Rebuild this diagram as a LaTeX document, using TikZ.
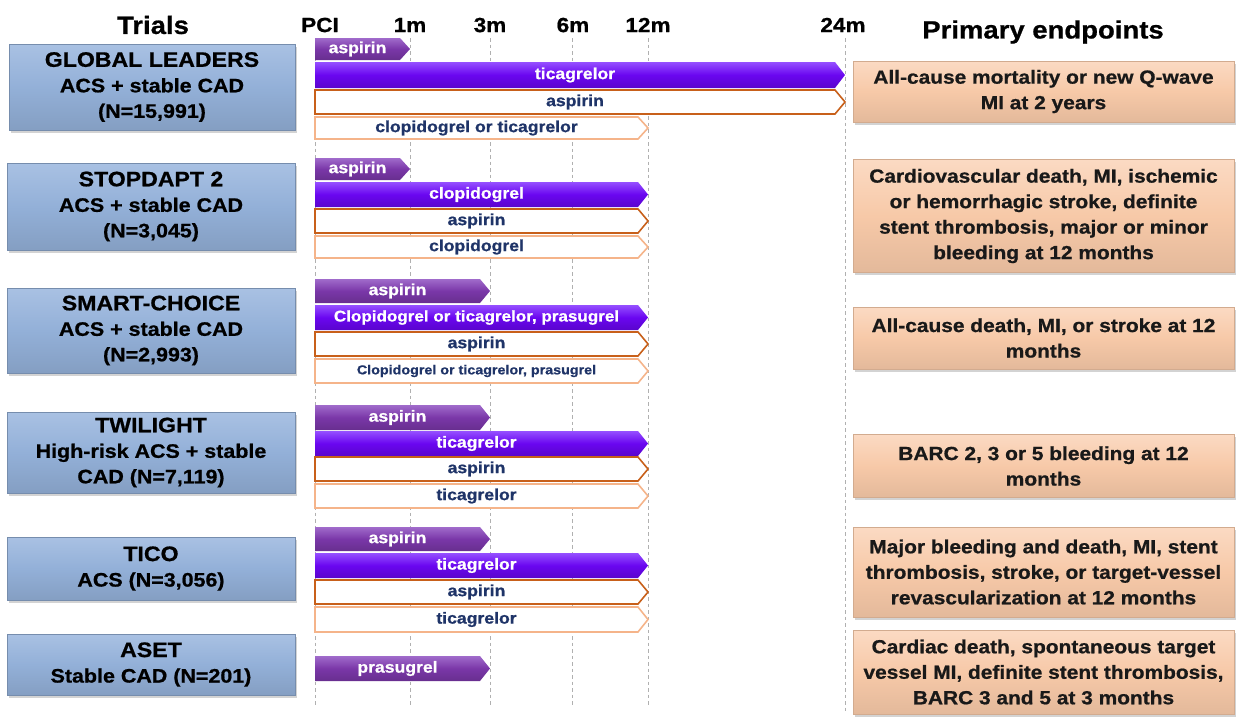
\documentclass[tikz,border=0pt]{standalone}
\usepackage{fontspec}
\setmainfont{Liberation Sans}[FakeStretch=1.1, BoldFeatures={FakeBold=0.8}]
\usetikzlibrary{shadows}
\definecolor{trialblue}{HTML}{93B0D8}
\definecolor{trialblueL}{HTML}{A9C1E3}
\definecolor{endpeach}{HTML}{F7C9A8}
\definecolor{endpeachL}{HTML}{FBDAC3}
\definecolor{darkpurple}{HTML}{7A37A8}
\definecolor{darkpurpleL}{HTML}{A06BCB}
\definecolor{vividviolet}{HTML}{6A06F0}
\definecolor{vividvioletL}{HTML}{9550FF}
\definecolor{asaorange}{HTML}{C8601A}
\definecolor{lightorange}{HTML}{F5B48A}
\definecolor{navytext}{HTML}{1F3468}
\definecolor{gridgray}{HTML}{B0B0B0}

\newcommand\drugbar[7]{%
  \path[#2] (315,#4) -- ({#3-10},#4) -- (#3,{(#4+#5)/2}) -- ({#3-10},#5) -- (315,#5) -- cycle;
  \node[#6] (#1) at ({(305+#3)/2},{(#4+#5)/2}) {#7};}

\tikzset{
  header/.style={font=\bfseries\fontsize{25}{28}\selectfont, inner sep=0pt},
  tick/.style={font=\bfseries\fontsize{20.5}{24}\selectfont, inner sep=0pt},
  grid/.style={draw=gridgray, line width=0.8pt, dash pattern=on 3.5pt off 3pt},
  trial/.style={rectangle, inner sep=0pt, align=center,
    top color=trialblueL, bottom color=trialblue!90!black, middle color=trialblue,
    draw=trialblue!80!black, line width=0.4pt,
    drop shadow={shadow xshift=1.5pt, shadow yshift=-2.5pt, opacity=0.35},
    font=\bfseries\fontsize{19.5}{25.5}\selectfont},
  endpoint/.style={rectangle, inner sep=0pt, align=center, text=black!90,
    top color=endpeachL, bottom color=endpeach!92!black, middle color=endpeach,
    draw=endpeach!85!black, line width=0.4pt,
    drop shadow={shadow xshift=1.5pt, shadow yshift=-2.5pt, opacity=0.35},
    font=\bfseries\fontsize{19}{25.5}\selectfont},
  shortbar/.style={top color=darkpurpleL, bottom color=darkpurple!85!black, middle color=darkpurple},
  longbar/.style={top color=vividvioletL, bottom color=vividviolet!85!black, middle color=vividviolet},
  asaline/.style={fill=white, draw=asaorange, line width=1.6pt, line join=miter},
  ptline/.style={fill=white, draw=lightorange, line width=1.6pt, line join=miter},
  whitetxt/.style={text=white, inner sep=0pt, font=\bfseries\fontsize{16}{18}\selectfont},
  navytxt/.style={text=navytext, inner sep=0pt, font=\bfseries\fontsize{16}{18}\selectfont},
}

\begin{document}
\begin{tikzpicture}[x=1pt, y=-1pt]
\useasboundingbox (0,0) rectangle (1236,716);

% headers
\node[header] (hTrials) at (153,25) {Trials};
\node[header] (hEnd) at (1043,32) {Primary endpoints};
\node[tick] (tPCI) at (320,25) {PCI};
\node[tick] (t1) at (410,25) {1m};
\node[tick] (t3) at (490,25) {3m};
\node[tick] (t6) at (573,25) {6m};
\node[tick] (t12) at (648,25) {12m};
\node[tick] (t24) at (843,25) {24m};

% time grid
\coordinate (g0) at (315,706);
\coordinate (g1) at (410,706);
\coordinate (g3) at (490,706);
\coordinate (g6) at (572,706);
\coordinate (g12) at (648,706);
\coordinate (g24) at (845,712);
\draw[grid] (315,38) -- (g0);
\draw[grid] (410,38) -- (g1);
\draw[grid] (490,38) -- (g3);
\draw[grid] (572,38) -- (g6);
\draw[grid] (648,38) -- (g12);
\draw[grid] (845,38) -- (g24);

% trial boxes
\node[trial, minimum width=286pt, minimum height=86pt] (trGL) at (152,87)
  {{\fontsize{21}{25.5}\selectfont GLOBAL LEADERS}\\ACS + stable CAD\\(N=15,991)};
\node[trial, minimum width=288pt, minimum height=87pt] (trSD) at (151,206.5)
  {{\fontsize{21}{25.5}\selectfont STOPDAPT 2}\\ACS + stable CAD\\(N=3,045)};
\node[trial, minimum width=288pt, minimum height=85pt] (trSC) at (151,330.5)
  {{\fontsize{21}{25.5}\selectfont SMART-CHOICE}\\ACS + stable CAD\\(N=2,993)};
\node[trial, minimum width=288pt, minimum height=81pt] (trTW) at (151,452.5)
  {{\fontsize{21}{25.5}\selectfont TWILIGHT}\\High-risk ACS + stable\\CAD (N=7,119)};
\node[trial, minimum width=288pt, minimum height=63pt] (trTI) at (151,568.5)
  {{\fontsize{21}{25.5}\selectfont TICO}\\ACS (N=3,056)};
\node[trial, minimum width=288pt, minimum height=61pt] (trAS) at (151,664.5)
  {{\fontsize{21}{25.5}\selectfont ASET}\\Stable CAD (N=201)};

% endpoint boxes
\node[endpoint, minimum width=381pt, minimum height=61pt] (epGL) at (1043.5,91.5)
  {All-cause mortality or new Q-wave\\MI at 2 years};
\node[endpoint, minimum width=381pt, minimum height=113pt] (epSD) at (1043.5,216)
  {Cardiovascular death, MI, ischemic\\or hemorrhagic stroke, definite\\stent thrombosis, major or minor\\bleeding at 12 months};
\node[endpoint, minimum width=381pt, minimum height=62pt] (epSC) at (1043.5,338)
  {All-cause death, MI, or stroke at 12\\months};
\node[endpoint, minimum width=381pt, minimum height=63pt] (epTW) at (1043.5,466)
  {BARC 2, 3 or 5 bleeding at 12\\months};
\node[endpoint, minimum width=381pt, minimum height=90pt] (epTI) at (1043.5,572)
  {Major bleeding and death, MI, stent\\thrombosis, stroke, or target-vessel\\revascularization at 12 months};
\node[endpoint, minimum width=381pt, minimum height=84pt] (epAS) at (1043.5,672)
  {Cardiac death, spontaneous target\\vessel MI, definite stent thrombosis,\\BARC 3 and 5 at 3 months};

% GLOBAL LEADERS bars
\drugbar{glA}{shortbar}{410}{38}{60}{whitetxt}{aspirin}
\drugbar{glB}{longbar}{845}{62}{88}{whitetxt}{ticagrelor}
\drugbar{glC}{asaline}{845}{90}{114}{navytxt}{aspirin}
\drugbar{glD}{ptline}{648}{117}{139}{navytxt}{clopidogrel or ticagrelor}

% STOPDAPT 2 bars
\drugbar{sdA}{shortbar}{410}{158}{180}{whitetxt}{aspirin}
\drugbar{sdB}{longbar}{648}{182}{207}{whitetxt}{clopidogrel}
\drugbar{sdC}{asaline}{648}{209}{233}{navytxt}{aspirin}
\drugbar{sdD}{ptline}{648}{236}{258}{navytxt}{clopidogrel}

% SMART-CHOICE bars
\drugbar{scA}{shortbar}{490}{279}{303}{whitetxt}{aspirin}
\drugbar{scB}{longbar}{648}{305}{330}{whitetxt, font=\bfseries\fontsize{15.5}{18}\selectfont}{Clopidogrel or ticagrelor, prasugrel}
\drugbar{scC}{asaline}{648}{332}{356}{navytxt}{aspirin}
\drugbar{scD}{ptline}{648}{359}{383}{navytxt, font=\bfseries\fontsize{13}{16}\selectfont}{Clopidogrel or ticagrelor, prasugrel}

% TWILIGHT bars
\drugbar{twA}{shortbar}{490}{405}{430}{whitetxt}{aspirin}
\drugbar{twB}{longbar}{648}{431}{456}{whitetxt}{ticagrelor}
\drugbar{twC}{asaline}{648}{457}{481}{navytxt}{aspirin}
\drugbar{twD}{ptline}{648}{484}{508}{navytxt}{ticagrelor}

% TICO bars
\drugbar{tiA}{shortbar}{490}{527}{551}{whitetxt}{aspirin}
\drugbar{tiB}{longbar}{648}{553}{578}{whitetxt}{ticagrelor}
\drugbar{tiC}{asaline}{648}{580}{604}{navytxt}{aspirin}
\drugbar{tiD}{ptline}{648}{607}{632}{navytxt}{ticagrelor}

% ASET bar
\drugbar{asA}{shortbar}{490}{656}{681}{whitetxt}{prasugrel}
\end{tikzpicture}
\end{document}
